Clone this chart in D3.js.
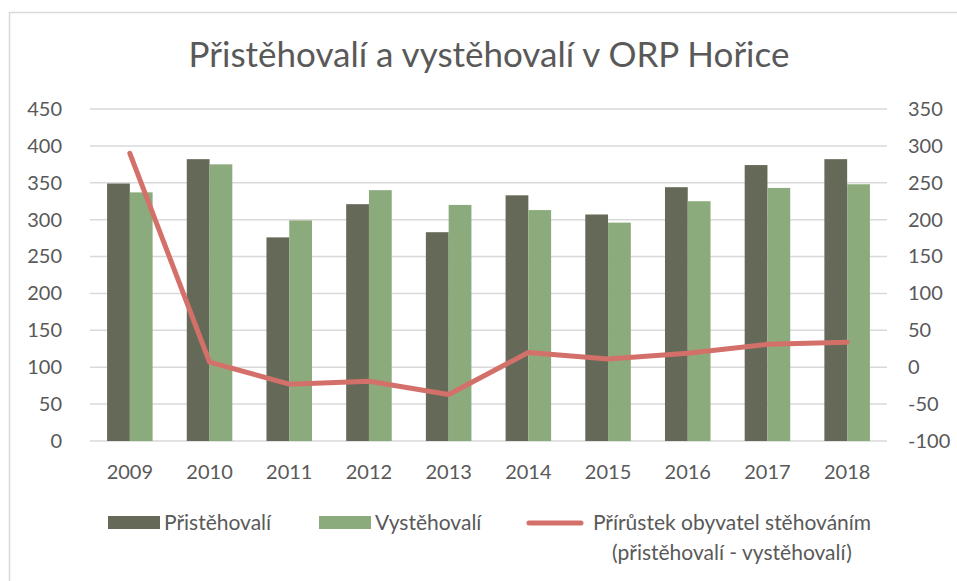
<!DOCTYPE html>
<html>
<head>
<meta charset="utf-8">
<script src="https://cdn.jsdelivr.net/npm/d3@7"></script>
<style>
  body { margin: 0; background: #fff; }
  text { font-family: Lato, "Open Sans", sans-serif; fill: #595959; }
</style>
</head>
<body>
<div id="chart"></div>
<script>
// Data
const years = ["2009", "2010", "2011", "2012", "2013", "2014", "2015", "2016", "2017", "2018"];
const prist = [349, 382, 276, 321, 283, 333, 307, 344, 374, 382];
const vyst = [337, 375, 299, 340, 320, 313, 296, 325, 343, 348];
const prirustek = [290, 7, -23, -19, -37, 20, 11, 19, 31, 34];
const leftTicks = [0, 50, 100, 150, 200, 250, 300, 350, 400, 450];
const rightTicks = [-100, -50, 0, 50, 100, 150, 200, 250, 300, 350];

const colDark = "#656957";
const colLight = "#8cab7c";
const colLine = "#d4706a";
const gridCol = "#d9d9d9";

const W = 957, H = 581;
const plot = { left: 90, right: 887, top: 109, bottom: 441 };

const svg = d3.select("#chart").append("svg")
    .attr("width", W)
    .attr("height", H);

// chart border
svg.append("rect")
    .attr("x", 9.5).attr("y", 12.5)
    .attr("width", W + 10).attr("height", H + 10)
    .style("fill", "none")
    .style("stroke", gridCol)
    .style("stroke-width", 1.5);

// title
svg.append("text")
    .attr("x", 489).attr("y", 67)
    .attr("text-anchor", "middle")
    .style("font-size", "35px")
    .text("Přistěhovalí a vystěhovalí v ORP Hořice");

// scales
const x = d3.scaleBand().domain(years).range([plot.left, plot.right]);
const xInner = d3.scaleBand().domain(["p", "v"]).range([0, x.bandwidth()])
    .paddingOuter(0.75);
const yLeft = d3.scaleLinear().domain([0, 450]).range([plot.bottom, plot.top]);
const yRight = d3.scaleLinear().domain([-100, 350]).range([plot.bottom, plot.top]);

// gridlines
svg.append("g").selectAll("line")
    .data(leftTicks)
    .join("line")
    .attr("x1", plot.left).attr("x2", plot.right)
    .attr("y1", d => yLeft(d)).attr("y2", d => yLeft(d))
    .style("stroke", gridCol)
    .style("stroke-width", 1.5);

// left axis
const axL = svg.append("g")
    .attr("transform", `translate(${plot.left - 28},0)`)
    .call(d3.axisLeft(yLeft).tickValues(leftTicks).tickFormat(String).tickSize(0).tickPadding(0));
axL.select(".domain").remove();
axL.selectAll("text").style("font-size", "20px").style("fill", "#595959");

// right axis
const axR = svg.append("g")
    .attr("transform", `translate(${plot.right + 21},0)`)
    .call(d3.axisRight(yRight).tickValues(rightTicks).tickFormat(String).tickSize(0).tickPadding(0));
axR.select(".domain").remove();
axR.selectAll("text").style("font-size", "20px").style("fill", "#595959");

// bottom axis
const axB = svg.append("g")
    .attr("transform", `translate(0,${plot.bottom})`)
    .call(d3.axisBottom(x).tickSize(0).tickPadding(24));
axB.select(".domain").remove();
axB.selectAll("text").style("font-size", "20px").style("fill", "#595959");

// bars
const groups = svg.append("g").selectAll("g")
    .data(years)
    .join("g")
    .attr("transform", d => `translate(${x(d)},0)`);

groups.append("rect")
    .attr("x", xInner("p"))
    .attr("width", xInner.bandwidth())
    .attr("y", (d, i) => yLeft(prist[i]))
    .attr("height", (d, i) => yLeft(0) - yLeft(prist[i]))
    .style("fill", colDark);

groups.append("rect")
    .attr("x", xInner("v"))
    .attr("width", xInner.bandwidth())
    .attr("y", (d, i) => yLeft(vyst[i]))
    .attr("height", (d, i) => yLeft(0) - yLeft(vyst[i]))
    .style("fill", colLight);

// line
const line = d3.line()
    .x((d, i) => x(years[i]) + x.bandwidth() / 2)
    .y(d => yRight(d));

svg.append("path")
    .datum(prirustek)
    .attr("d", line)
    .style("fill", "none")
    .style("stroke", colLine)
    .style("stroke-width", 5)
    .style("stroke-linecap", "round")
    .style("stroke-linejoin", "round");

// legend
const legend = svg.append("g");
legend.append("rect")
    .attr("x", 108).attr("y", 516).attr("width", 52).attr("height", 13)
    .style("fill", colDark);
legend.append("text")
    .attr("x", 164).attr("y", 530)
    .style("font-size", "21px")
    .text("Přistěhovalí");
legend.append("rect")
    .attr("x", 319).attr("y", 516).attr("width", 52).attr("height", 13)
    .style("fill", colLight);
legend.append("text")
    .attr("x", 375).attr("y", 530)
    .style("font-size", "21px")
    .text("Vystěhovalí");
legend.append("line")
    .attr("x1", 529).attr("x2", 581).attr("y1", 523).attr("y2", 523)
    .style("stroke", colLine)
    .style("stroke-width", 5)
    .style("stroke-linecap", "round");
legend.append("text")
    .attr("x", 732).attr("y", 530)
    .attr("text-anchor", "middle")
    .style("font-size", "21px")
    .text("Přírůstek obyvatel stěhováním");
legend.append("text")
    .attr("x", 732).attr("y", 560)
    .attr("text-anchor", "middle")
    .style("font-size", "21px")
    .text("(přistěhovalí - vystěhovalí)");
</script>
</body>
</html>
